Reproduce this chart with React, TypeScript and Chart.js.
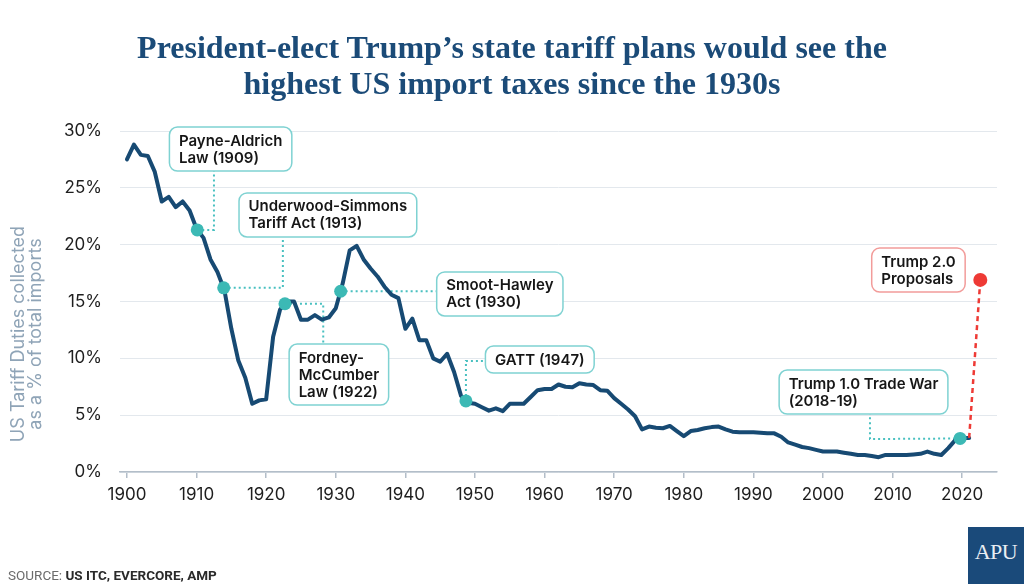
import React, { useEffect, useRef } from 'react';
import { Chart, registerables } from 'chart.js';

Chart.register(...registerables);

// ---------- DATA ----------
const years = [
  1900, 1901, 1902, 1903, 1904, 1905, 1906, 1907, 1908, 1909,
  1910, 1911, 1912, 1913, 1914, 1915, 1916, 1917, 1918, 1919,
  1920, 1921, 1922, 1923, 1924, 1925, 1926, 1927, 1928, 1929,
  1930, 1931, 1932, 1933, 1934, 1935, 1936, 1937, 1938, 1939,
  1940, 1941, 1942, 1943, 1944, 1945, 1946, 1947, 1948, 1949,
  1950, 1951, 1952, 1953, 1954, 1955, 1956, 1957, 1958, 1959,
  1960, 1961, 1962, 1963, 1964, 1965, 1966, 1967, 1968, 1969,
  1970, 1971, 1972, 1973, 1974, 1975, 1976, 1977, 1978, 1979,
  1980, 1981, 1982, 1983, 1984, 1985, 1986, 1987, 1988, 1989,
  1990, 1991, 1992, 1993, 1994, 1995, 1996, 1997, 1998, 1999,
  2000, 2001, 2002, 2003, 2004, 2005, 2006, 2007, 2008, 2009,
  2010, 2011, 2012, 2013, 2014, 2015, 2016, 2017, 2018, 2019,
  2020, 2021,
];

const tariffPct = [
  27.5, 28.8, 27.9, 27.8, 26.4, 23.8, 24.2, 23.3, 23.8, 23.0,
  21.4, 20.6, 18.7, 17.6, 16.0, 12.6, 9.8, 8.3, 6.0, 6.3,
  6.4, 11.9, 14.3, 15.0, 15.0, 13.4, 13.4, 13.8, 13.4, 13.6,
  14.4, 16.6, 19.5, 19.9, 18.7, 17.9, 17.2, 16.3, 15.6, 15.3,
  12.6, 13.5, 11.6, 11.6, 10.0, 9.7, 10.4, 8.8, 6.7, 6.1,
  6.0, 5.7, 5.4, 5.6, 5.35, 6.0, 6.0, 6.0, 6.6, 7.2,
  7.3, 7.3, 7.7, 7.5, 7.45, 7.8, 7.7, 7.65, 7.2, 7.15,
  6.5, 6.0, 5.5, 4.9, 3.75, 4.0, 3.9, 3.85, 4.05, 3.6,
  3.15, 3.6, 3.7, 3.85, 3.95, 4.0, 3.75, 3.55, 3.5, 3.5,
  3.5, 3.45, 3.4, 3.4, 3.1, 2.6, 2.4, 2.2, 2.1, 1.95,
  1.8, 1.8, 1.8, 1.7, 1.6, 1.5, 1.5, 1.4, 1.3, 1.5,
  1.5, 1.5, 1.5, 1.55, 1.6, 1.8, 1.6, 1.5, 2.1, 2.8,
  3.0, 3.0,
];

const eventLabels = [
  ['Payne-Aldrich', 'Law (1909)'],
  ['Underwood-Simmons', 'Tariff Act (1913)'],
  ['Fordney-', 'McCumber', 'Law (1922)'],
  ['Smoot-Hawley', 'Act (1930)'],
  ['GATT (1947)'],
  ['Trump 1.0 Trade War', '(2018-19)'],
];
const eventYears = [1910.1, 1913.9, 1922.7, 1930.7, 1948.7, 2019.7];
const eventPct = [21.3, 16.2, 14.8, 15.9, 6.25, 2.95];

const proposalLabel = ['Trump 2.0', 'Proposals'];
const proposalYears = [2021, 2022.6];
const proposalPct = [3.0, 16.9];

const xTickValues = [1900, 1910, 1920, 1930, 1940, 1950, 1960, 1970, 1980, 1990, 2000, 2010, 2020];
const yTickValues = [0, 5, 10, 15, 20, 25, 30];
const yTitleLines = ['US Tariff Duties collected', 'as a % of total imports'];

// ---------- LAYOUT (callout boxes in data units) ----------
const calloutLayout = [
  { boxX: 1906.1, boxY: 30.35, elbow: [1912.5, 21.3], end: 'v' },
  { boxX: 1916.1, boxY: 24.55, elbow: [1922.4, 16.2], end: 'v' },
  { boxX: 1923.3, boxY: 11.26, elbow: [1928.2, 14.8], end: 'v' },
  { boxX: 1944.5, boxY: 17.6, elbow: [1930.7, 15.9], end: 'h' },
  { boxX: 1951.5, boxY: 11.08, elbow: [1948.7, 9.77], end: 'h' },
  { boxX: 1993.7, boxY: 8.97, elbow: [2006.75, 2.9], end: 'v' },
];
const proposalBox = { boxX: 2007.0, boxY: 19.7 };

const NAVY = '#174a73';
const TEAL = '#3cb9b5';
const TEAL_BORDER = '#7fd2d2';
const TEAL_DOT = '#49c0c0';
const RED = '#ee3a35';
const RED_BORDER = '#f29c9a';
const BOX_FONT = '600 15px Inter, "Noto Sans", sans-serif';
const LINE_H = 17;

function boxRect(ctx: CanvasRenderingContext2D, chart: any, lines: string[], bx: number, by: number) {
  ctx.font = BOX_FONT;
  const w = Math.max(...lines.map((l) => ctx.measureText(l).width)) + 19;
  const h = lines.length * LINE_H + 10;
  const x = chart.scales.x.getPixelForValue(bx);
  const y = chart.scales.y.getPixelForValue(by);
  return { x, y, w, h };
}

function drawBox(ctx: CanvasRenderingContext2D, r: any, lines: string[], border: string) {
  ctx.save();
  ctx.beginPath();
  ctx.roundRect(r.x, r.y, r.w, r.h, 8);
  ctx.fillStyle = '#ffffff';
  ctx.fill();
  ctx.lineWidth = 1.5;
  ctx.strokeStyle = border;
  ctx.stroke();
  ctx.fillStyle = '#161616';
  ctx.font = BOX_FONT;
  ctx.textAlign = 'left';
  ctx.textBaseline = 'middle';
  lines.forEach((l, i) => {
    ctx.fillText(l, r.x + 9.5, r.y + 5 + LINE_H / 2 + i * LINE_H + 0.5);
  });
  ctx.restore();
}

const calloutPlugin = {
  id: 'callouts',
  beforeDatasetsDraw(chart: any) {
    const ctx = chart.ctx as CanvasRenderingContext2D;
    const xs = chart.scales.x;
    const ys = chart.scales.y;
    ctx.save();
    ctx.strokeStyle = TEAL_DOT;
    ctx.lineWidth = 2;
    ctx.setLineDash([2, 3]);
    calloutLayout.forEach((c, i) => {
      const r = boxRect(ctx, chart, eventLabels[i], c.boxX, c.boxY);
      const mx = xs.getPixelForValue(eventYears[i]);
      const my = ys.getPixelForValue(eventPct[i]);
      const ex = xs.getPixelForValue(c.elbow[0]);
      const ey = ys.getPixelForValue(c.elbow[1]);
      let tx: number;
      let ty: number;
      if (c.end === 'v') {
        tx = ex;
        ty = ey > r.y + r.h ? r.y + r.h : r.y;
      } else {
        tx = r.x;
        ty = ey;
      }
      ctx.beginPath();
      ctx.moveTo(mx, my);
      ctx.lineTo(ex, ey);
      ctx.lineTo(tx, ty);
      ctx.stroke();
    });
    ctx.restore();
  },
  afterDatasetsDraw(chart: any) {
    const ctx = chart.ctx as CanvasRenderingContext2D;
    calloutLayout.forEach((c, i) => {
      const r = boxRect(ctx, chart, eventLabels[i], c.boxX, c.boxY);
      drawBox(ctx, r, eventLabels[i], TEAL_BORDER);
    });
    const pr = boxRect(ctx, chart, proposalLabel, proposalBox.boxX, proposalBox.boxY);
    drawBox(ctx, pr, proposalLabel, RED_BORDER);
  },
  afterDraw(chart: any) {
    // y-axis title, two rotated lines, sitting a little below the axis centre
    const ctx = chart.ctx as CanvasRenderingContext2D;
    ctx.save();
    ctx.font = '18px Inter, "Noto Sans", sans-serif';
    ctx.fillStyle = '#8fa4b7';
    ctx.textAlign = 'center';
    ctx.textBaseline = 'middle';
    yTitleLines.forEach((l, i) => {
      ctx.save();
      ctx.translate(19 + i * 17, 334);
      ctx.rotate(-Math.PI / 2);
      ctx.fillText(l, 0, 0);
      ctx.restore();
    });
    ctx.restore();
  },
};

export default function App() {
  const canvasRef = useRef<HTMLCanvasElement>(null);

  useEffect(() => {
    const canvas = canvasRef.current;
    if (!canvas) return;
    const chart = new Chart(canvas, {
      type: 'line',
      data: {
        datasets: [
          {
            label: 'Events',
            data: eventYears.map((x, i) => ({ x, y: eventPct[i] })),
            showLine: false,
            pointRadius: 6.5,
            pointBackgroundColor: TEAL,
            pointBorderWidth: 0,
          },
          {
            label: 'Trump 2.0',
            data: proposalYears.map((x, i) => ({ x, y: proposalPct[i] })),
            borderColor: RED,
            borderWidth: 2.5,
            borderDash: [5, 4],
            pointRadius: [0, 7],
            pointBackgroundColor: RED,
            pointBorderWidth: 0,
          },
          {
            label: 'Tariff',
            data: years.map((x, i) => ({ x, y: tariffPct[i] })),
            borderColor: NAVY,
            borderWidth: 4,
            pointRadius: 0,
            tension: 0,
            borderJoinStyle: 'round',
            borderCapStyle: 'round',
          },
        ],
      },
      options: {
        animation: false,
        responsive: true,
        maintainAspectRatio: false,
        layout: { padding: { top: 131, right: 27, bottom: 72, left: 0 } },
        plugins: { legend: { display: false }, tooltip: { enabled: false } },
        scales: {
          x: {
            type: 'linear',
            min: 1899,
            max: 2025,
            afterBuildTicks: (s: any) => {
              s.ticks = xTickValues.map((v) => ({ value: v }));
            },
            afterFit: (s: any) => {
              s.height = 40;
            },
            ticks: {
              callback: (v: any) => String(v),
              color: '#1e1e1e',
              font: { family: 'Inter', size: 17 },
              padding: 7,
              maxRotation: 0,
              autoSkip: false,
            },
            grid: {
              drawOnChartArea: false,
              drawTicks: true,
              tickLength: 6,
              color: '#b3bec9',
              lineWidth: 1.5,
            },
            border: { display: true, color: '#b3bec9', width: 1.5 },
          },
          y: {
            min: 0,
            max: 30,
            afterBuildTicks: (s: any) => {
              s.ticks = yTickValues.map((v) => ({ value: v }));
            },
            afterFit: (s: any) => {
              s.width = 120;
            },
            ticks: {
              callback: (v: any) => v + '%',
              color: '#1e1e1e',
              font: { family: 'Inter', size: 17 },
              padding: 18,
            },
            grid: { color: '#e3e8ed', lineWidth: 1, drawTicks: false },
            border: { display: false },
          },
        },
      },
      plugins: [calloutPlugin],
    } as any);
    return () => chart.destroy();
  }, []);

  return (
    <div style={{ position: 'absolute', left: 0, top: 0, width: 1024, height: 584, background: '#ffffff', overflow: 'hidden' }}>
      <div style={{ position: 'absolute', left: 0, top: 0, width: 1024, height: 584 }}>
        <canvas ref={canvasRef} />
      </div>
      <div
        style={{
          position: 'absolute',
          left: 0,
          top: 29,
          width: 1024,
          textAlign: 'center',
          fontFamily: '"Liberation Serif", serif',
          fontWeight: 700,
          fontSize: 32,
          lineHeight: '36px',
          color: '#1b4b78',
        }}
      >
        <div>President-elect Trump’s state tariff plans would see the</div>
        <div>highest US import taxes since the 1930s</div>
      </div>
      <div
        style={{
          position: 'absolute',
          left: 8,
          top: 567,
          fontFamily: 'Roboto, sans-serif',
          fontSize: 13.5,
          lineHeight: '16px',
          color: '#6b6b6b',
          whiteSpace: 'nowrap',
        }}
      >
        SOURCE: <span style={{ fontWeight: 700, color: '#2a2a2a' }}>US ITC, EVERCORE, AMP</span>
      </div>
      <div
        style={{
          position: 'absolute',
          left: 968,
          top: 527,
          width: 56,
          height: 57,
          background: '#1a4a7a',
          color: '#e9eef4',
          fontFamily: '"Liberation Serif", serif',
          fontSize: 22,
          lineHeight: '50px',
          textAlign: 'center',
          letterSpacing: -0.5,
        }}
      >
        APU
      </div>
    </div>
  );
}
